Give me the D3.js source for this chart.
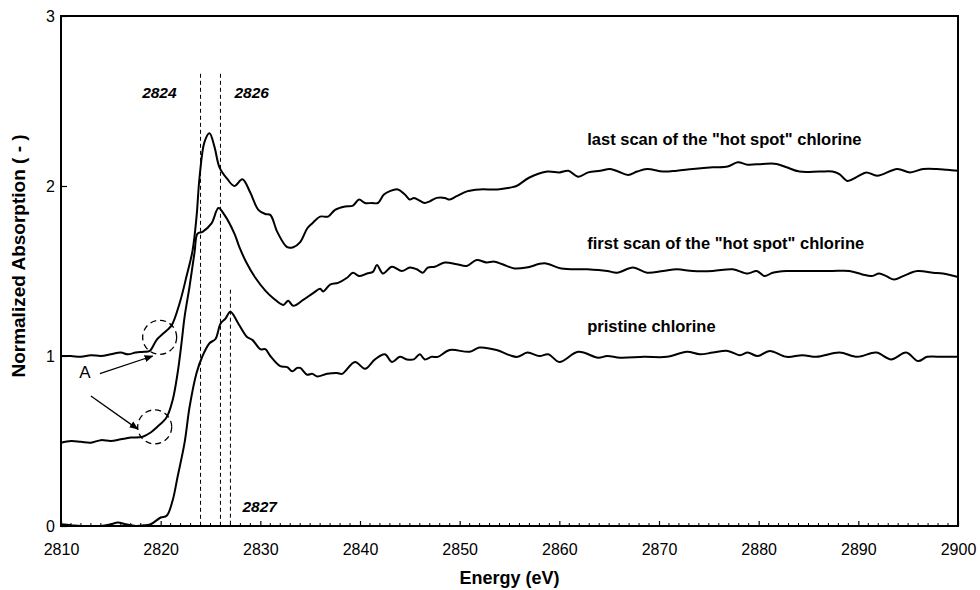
<!DOCTYPE html>
<html>
<head>
<meta charset="utf-8">
<script src="https://cdn.jsdelivr.net/npm/d3@7"></script>
<style>
  body { margin: 0; background: #fff; }
  svg { font-family: Arial, "Liberation Sans", sans-serif; }
</style>
</head>
<body>
<svg id="chart" width="980" height="590"></svg>
<script>
// Cl K-edge XANES spectra, [energy eV, normalized absorption]
const pristine = [
  [2810, 0.01], [2811, 0.005], [2812, 0.0], [2813, 0.0], [2814, 0.0], [2815, 0.01], [2815.7, 0.02],
  [2816.5, 0.01], [2817.5, 0.0], [2818.5, 0.005], [2819, 0.01], [2820, 0.05], [2820.6, 0.06],
  [2821.2, 0.15], [2821.7, 0.29], [2822.4, 0.49], [2822.9, 0.7], [2823.6, 0.9], [2824.2, 1.0],
  [2824.9, 1.075], [2825.5, 1.1], [2826, 1.19], [2826.5, 1.22], [2827, 1.26], [2827.8, 1.19],
  [2828.7, 1.11], [2829.2, 1.095], [2830, 1.04], [2830.5, 1.04], [2831, 1.0], [2832, 0.94],
  [2832.7, 0.935], [2833.2, 0.91], [2833.7, 0.93], [2834, 0.93], [2834.7, 0.89], [2835.2, 0.895],
  [2835.7, 0.88], [2836.7, 0.895], [2837.7, 0.9], [2838.2, 0.895], [2839.5, 0.965], [2840.5, 0.925],
  [2841.5, 0.98], [2842.5, 1.01], [2843.2, 0.965], [2844, 0.995], [2844.7, 0.98], [2845.4, 0.98],
  [2846, 1.01], [2846.5, 0.98], [2847.2, 0.995], [2847.8, 0.995], [2849, 1.035], [2851, 1.025],
  [2852, 1.05], [2853.7, 1.035], [2855, 1.005], [2855.8, 0.995], [2856.8, 1.02], [2858, 1.0],
  [2858.9, 1.01], [2860, 0.965], [2861.9, 1.025], [2863.9, 0.99], [2864.8, 1.0], [2866.1, 0.99],
  [2868.5, 0.995], [2870.8, 0.995], [2872.8, 1.025], [2874.1, 1.01], [2875.4, 1.02], [2876.9, 1.03],
  [2878.1, 1.005], [2878.9, 1.02], [2879.9, 1.0], [2881.1, 1.03], [2882.8, 0.995], [2884.4, 1.005],
  [2885.8, 0.995], [2888.1, 1.02], [2889.9, 0.995], [2891.8, 1.02], [2893.3, 0.98], [2894.8, 1.02],
  [2896, 0.97], [2896.9, 0.995], [2898.5, 0.995], [2900, 0.995]
];

const firstScan = [
  [2810, 0.49], [2811, 0.5], [2812, 0.495], [2813, 0.49], [2814, 0.505], [2815, 0.5], [2816, 0.51],
  [2817, 0.52], [2818.2, 0.525], [2819, 0.55], [2819.6, 0.58], [2820.6, 0.64], [2821.2, 0.74],
  [2821.7, 0.9], [2822.1, 1.08], [2822.4, 1.23], [2822.9, 1.41], [2823.4, 1.61], [2823.7, 1.72],
  [2824.2, 1.73], [2825.1, 1.78], [2825.8, 1.87], [2826.4, 1.83], [2827.4, 1.72], [2827.9, 1.64],
  [2828.6, 1.55], [2829.5, 1.46], [2830.5, 1.385], [2831.3, 1.34], [2832.3, 1.3], [2832.8, 1.325],
  [2833.3, 1.295], [2834.3, 1.33], [2835.3, 1.37], [2836, 1.395], [2836.3, 1.38], [2837, 1.42],
  [2837.8, 1.43], [2838.7, 1.46], [2839.3, 1.49], [2839.9, 1.47], [2840.7, 1.485], [2841.3, 1.495],
  [2841.7, 1.535], [2842.3, 1.485], [2843.2, 1.525], [2844.2, 1.5], [2845, 1.52], [2845.7, 1.51],
  [2846.3, 1.49], [2846.8, 1.52], [2847.5, 1.525], [2848.5, 1.55], [2849.7, 1.54], [2850.7, 1.53],
  [2851.7, 1.565], [2852.7, 1.55], [2853.5, 1.555], [2854.7, 1.53], [2855.5, 1.515], [2856.7, 1.52],
  [2858.5, 1.545], [2860.2, 1.515], [2862.8, 1.51], [2864.8, 1.5], [2865.8, 1.49], [2867.4, 1.52],
  [2868.8, 1.49], [2870.4, 1.5], [2871.8, 1.51], [2873.4, 1.5], [2875.4, 1.5], [2877.4, 1.51],
  [2878.9, 1.485], [2879.8, 1.5], [2880.6, 1.47], [2881.4, 1.49], [2882.8, 1.5], [2884.1, 1.5],
  [2885.8, 1.5], [2887.4, 1.5], [2889.1, 1.5], [2890.4, 1.48], [2891.3, 1.47], [2892.1, 1.485],
  [2892.8, 1.47], [2893.6, 1.45], [2894.5, 1.47], [2895.9, 1.5], [2897.5, 1.49], [2898.5, 1.485],
  [2900, 1.465]
];

const lastScan = [
  [2810, 1.0], [2811, 1.0], [2812, 0.995], [2813, 1.005], [2814, 1.0], [2815, 1.01], [2816, 1.02],
  [2816.7, 1.01], [2817.5, 1.02], [2818.3, 1.025], [2818.9, 1.03], [2819.6, 1.095], [2820.6, 1.15],
  [2821.1, 1.18], [2821.9, 1.31], [2822.6, 1.47], [2823.2, 1.62], [2823.6, 1.82], [2823.9, 2.05],
  [2824.4, 2.26], [2824.9, 2.31], [2825.4, 2.23], [2825.9, 2.11], [2826.7, 2.04], [2827.4, 2.0],
  [2828.2, 2.04], [2829, 1.96], [2829.8, 1.86], [2830.5, 1.835], [2831, 1.83], [2831.7, 1.73],
  [2832.7, 1.64], [2833.3, 1.64], [2834, 1.67], [2834.7, 1.75], [2835.2, 1.78], [2836, 1.82],
  [2836.8, 1.82], [2837.5, 1.86], [2838.5, 1.88], [2839.3, 1.885], [2839.9, 1.92], [2840.5, 1.9],
  [2841.2, 1.9], [2841.8, 1.9], [2842.4, 1.95], [2843, 1.97], [2843.8, 1.98], [2844.5, 1.95],
  [2845, 1.92], [2845.4, 1.93], [2845.8, 1.92], [2846.5, 1.9], [2847, 1.91], [2847.7, 1.93],
  [2848.5, 1.93], [2849, 1.92], [2849.7, 1.94], [2850.8, 1.97], [2852, 1.98], [2853.8, 1.98],
  [2855, 1.99], [2855.7, 2.0], [2857, 2.05], [2858.8, 2.085], [2860, 2.08], [2860.9, 2.09],
  [2861.9, 2.055], [2862.9, 2.08], [2864.1, 2.09], [2865.1, 2.1], [2865.9, 2.085], [2866.9, 2.065],
  [2867.8, 2.085], [2868.8, 2.1], [2870.4, 2.085], [2871.8, 2.09], [2873.4, 2.1], [2875.4, 2.11],
  [2876.9, 2.115], [2877.9, 2.14], [2878.9, 2.125], [2880.4, 2.13], [2881.8, 2.13], [2882.8, 2.11],
  [2884.1, 2.085], [2886.1, 2.085], [2887.4, 2.085], [2888.1, 2.07], [2888.9, 2.03], [2889.9, 2.055],
  [2890.8, 2.08], [2891.9, 2.06], [2893.9, 2.1], [2895.2, 2.08], [2896.5, 2.1], [2897.9, 2.1],
  [2898.9, 2.095], [2900, 2.09]
];

const seriesLabels = ['last scan of the "hot spot" chlorine', 'first scan of the "hot spot" chlorine', 'pristine chlorine'];
const markerEnergies = [2824, 2826, 2827];
const markerTops = [2.66, 2.66, 1.39];
const yTicks = [0, 1, 2, 3];
const xTicks = [2810, 2820, 2830, 2840, 2850, 2860, 2870, 2880, 2890, 2900];
// pre-edge shoulders marked "A": [energy, absorption]
const shoulders = [[2819.9, 1.11], [2819.4, 0.583]];

const svg = d3.select('#chart');
const margin = { top: 16, right: 22, bottom: 64, left: 61 };
const width = 980 - margin.left - margin.right;
const height = 590 - margin.top - margin.bottom;

const g = svg.append('g').attr('transform', `translate(${margin.left},${margin.top})`);

const x = d3.scaleLinear().domain([2810, 2900]).range([0, width]);
const y = d3.scaleLinear().domain([0, 3]).range([height, 0]);

svg.append('defs').append('marker')
  .attr('id', 'arrow')
  .attr('viewBox', '0 0 10 10')
  .attr('refX', 9).attr('refY', 5)
  .attr('markerWidth', 9).attr('markerHeight', 9)
  .attr('markerUnits', 'userSpaceOnUse')
  .attr('orient', 'auto')
  .append('path').attr('d', 'M0,1 L10,5 L0,9 Z').attr('fill', '#000');

// dashed marker lines
g.selectAll('.marker')
  .data(markerEnergies)
  .enter().append('line')
  .attr('x1', d => x(d)).attr('x2', d => x(d))
  .attr('y1', (d, i) => y(markerTops[i])).attr('y2', height)
  .attr('stroke', '#000').attr('stroke-width', 1)
  .attr('stroke-dasharray', '4,3');

// spectra
const line = d3.line()
  .x(d => x(d[0]))
  .y(d => y(d[1]))
  .curve(d3.curveCatmullRom.alpha(0.5));

[lastScan, firstScan, pristine].forEach(s => {
  g.append('path')
    .datum(s)
    .attr('fill', 'none')
    .attr('stroke', '#000')
    .attr('stroke-width', 2)
    .attr('stroke-linejoin', 'round')
    .attr('d', line);
});

// axes box
g.append('rect')
  .attr('width', width).attr('height', height)
  .attr('fill', 'none').attr('stroke', '#000').attr('stroke-width', 2);

// x minor ticks, every 1 eV, pointing inward
const minor = d3.range(2811, 2900, 1).filter(v => v % 10 !== 0);
g.selectAll('.minor')
  .data(minor)
  .enter().append('line')
  .attr('x1', d => x(d)).attr('x2', d => x(d))
  .attr('y1', height).attr('y2', height - 3)
  .attr('stroke', '#000').attr('stroke-width', 1);

const xAxis = d3.axisBottom(x).tickValues(xTicks).tickSize(-5).tickPadding(18).tickFormat(d3.format('d'));
const xg = g.append('g').attr('transform', `translate(0,${height})`).call(xAxis);
xg.select('.domain').remove();
xg.selectAll('.tick line').attr('stroke-width', 1.2);
xg.selectAll('text').attr('font-size', 16).attr('font-family', 'Arial, "Liberation Sans", sans-serif').attr('fill', '#000');

const yAxis = d3.axisLeft(y).tickValues(yTicks).tickSize(-6).tickPadding(6).tickFormat(d3.format('d'));
const yg = g.append('g').call(yAxis);
yg.select('.domain').remove();
yg.selectAll('.tick line').attr('stroke-width', 1.2);
yg.selectAll('text').attr('font-size', 16).attr('font-family', 'Arial, "Liberation Sans", sans-serif').attr('fill', '#000');

// axis titles
svg.append('text')
  .attr('x', margin.left + width / 2).attr('y', 584)
  .attr('text-anchor', 'middle')
  .attr('font-size', 18).attr('font-weight', 'bold')
  .text('Energy (eV)');

svg.append('text')
  .attr('transform', 'translate(25,256) rotate(-90)')
  .attr('text-anchor', 'middle')
  .attr('font-size', 19).attr('font-weight', 'bold')
  .text('Normalized Absorption ( - )');

// series labels
const labelY = [2.24, 1.63, 1.142];
g.selectAll('.slabel')
  .data(seriesLabels)
  .enter().append('text')
  .attr('x', x(2862.8))
  .attr('y', (d, i) => y(labelY[i]))
  .attr('font-size', 16.5).attr('font-weight', 'bold')
  .text(d => d);

// marker energy labels
const markerLabelPos = [
  { e: 2821.6, v: 2.52, anchor: 'end' },
  { e: 2827.4, v: 2.52, anchor: 'start' },
  { e: 2828.2, v: 0.085, anchor: 'start' }
];
g.selectAll('.mlabel')
  .data(markerEnergies)
  .enter().append('text')
  .attr('x', (d, i) => x(markerLabelPos[i].e))
  .attr('y', (d, i) => y(markerLabelPos[i].v))
  .attr('text-anchor', (d, i) => markerLabelPos[i].anchor)
  .attr('font-size', 15.5).attr('font-weight', 'bold').attr('font-style', 'italic')
  .text(d => d);

// shoulder annotations
g.selectAll('.circ')
  .data(shoulders)
  .enter().append('circle')
  .attr('cx', d => x(d[0])).attr('cy', d => y(d[1]))
  .attr('r', 17)
  .attr('fill', 'none').attr('stroke', '#000').attr('stroke-width', 1.3)
  .attr('stroke-dasharray', '6,4');

g.append('text')
  .attr('x', x(2812.4)).attr('y', y(0.87))
  .attr('text-anchor', 'middle')
  .attr('font-size', 17)
  .text('A');

const arrows = [
  [[2813.9, 0.896], [2819.2, 1.0]],
  [[2813.0, 0.765], [2817.7, 0.57]]
];
arrows.forEach(a => {
  g.append('line')
    .attr('x1', x(a[0][0])).attr('y1', y(a[0][1]))
    .attr('x2', x(a[1][0])).attr('y2', y(a[1][1]))
    .attr('stroke', '#000').attr('stroke-width', 1.3)
    .attr('marker-end', 'url(#arrow)');
});
</script>
</body>
</html>
